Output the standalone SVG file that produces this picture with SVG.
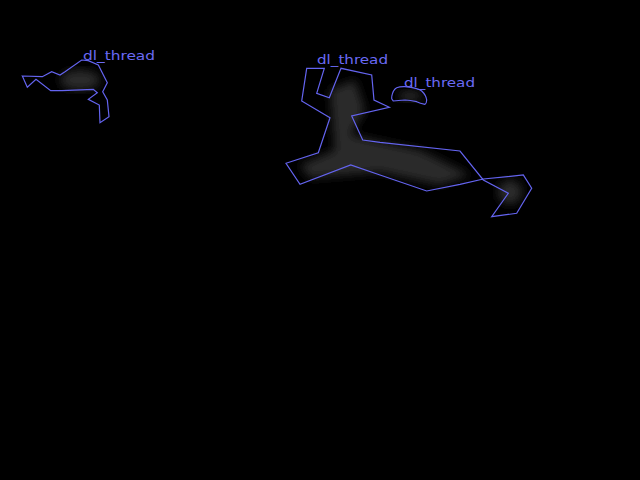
<svg xmlns="http://www.w3.org/2000/svg" width="640" height="480" viewBox="0 0 640 480">
<defs>
<filter id="blur" x="-20%" y="-20%" width="140%" height="140%"><feGaussianBlur stdDeviation="5"/></filter>
</defs>
<style>
.outline{fill:none;stroke:#6464f0;stroke-width:1.2;stroke-linejoin:miter}
.shade{fill:#2a2a2a;filter:url(#blur)}
.lbl{font-family:"DejaVu Sans",sans-serif;font-size:13px;fill:#6a6af5}
</style>
<rect width="640" height="480" fill="#000"/>
<g id="thread1">
<ellipse class="shade" cx="80" cy="80" rx="20" ry="10"/>
<polygon class="outline" points="22.3,76 42.3,76.7 51.7,71.7 60,75 65,71.7 81.7,60 88.3,60.7 98.3,65 107.3,82.7 102.7,91.7 107.3,100 109,116.7 100,122.7 99.3,105 88.3,99.3 97.3,92.7 93.3,89.3 61.7,90.7 50.7,90.7 36,79.3 27.3,87.3"/>
<text class="lbl" x="83" y="60" textLength="72" lengthAdjust="spacingAndGlyphs">dl_thread</text>
</g>
<g id="thread2">
<path class="shade" d="M330,90 L355,80 L365,110 L350,135 L420,150 L470,175 L440,185 L380,172 L310,178 L300,165 L335,150 Z"/>
<ellipse class="shade" cx="510" cy="192" rx="12" ry="12"/>
<polygon class="outline" points="306.7,68.3 324.3,68.3 316.7,93.3 329.3,97.7 341,68.3 371.7,75 374,100 389.3,107.3 351.7,116 362.7,140 380,142.3 460,151 483.3,180 508.3,193.3 491.7,216.7 516.7,213.3 531.7,188.3 523.3,175 483.3,179 460,184.3 426.7,191 380,175 350.7,165 300,184.3 286,163.3 318.3,152.7 330,117.7 301.7,101"/>
<text class="lbl" x="317" y="64" textLength="71" lengthAdjust="spacingAndGlyphs">dl_thread</text>
</g>
<g id="thread3">
<ellipse class="shade" cx="410" cy="96" rx="12" ry="5"/>
<path class="outline" d="M396.7,87.7 Q400,86.5 405,86.7 Q418,88 421.7,91 Q426,95 426.7,100 Q426.5,103.5 425,104.3 Q420,103.5 416.7,101.7 Q410,100 405,100 Q398,100.5 393.3,101 Q391,99 391.7,96.7 Q393,89.5 396.7,87.7 Z"/>
<text class="lbl" x="404" y="87" textLength="71" lengthAdjust="spacingAndGlyphs">dl_thread</text>
</g>
</svg>
